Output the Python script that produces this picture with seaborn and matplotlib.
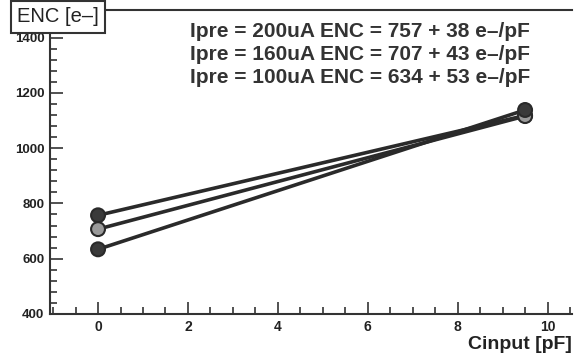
import pandas as pd
import matplotlib.pyplot as plt
import seaborn as sns
from matplotlib.ticker import MultipleLocator

# === DATA ===
ipre = ["200uA", "160uA", "100uA"]
cin = [0.0, 9.5]
enc_200 = [757, 1118]
enc_160 = [707, 1116]
enc_100 = [634, 1138]
fit_labels = [
    "Ipre = 200uA ENC = 757 + 38 e\u2013/pF",
    "Ipre = 160uA ENC = 707 + 43 e\u2013/pF",
    "Ipre = 100uA ENC = 634 + 53 e\u2013/pF",
]

df = pd.DataFrame({
    "Cinput": cin * 3,
    "ENC": enc_200 + enc_160 + enc_100,
    "Ipre": [ipre[0]] * 2 + [ipre[1]] * 2 + [ipre[2]] * 2,
})

sns.set_style("white")
plt.rcParams["font.family"] = ["Liberation Sans", "DejaVu Sans"]

fig = plt.figure(figsize=(5.74, 3.54), dpi=100)
ax = fig.add_axes([0.087, 0.113, 0.91, 0.859])

line_pal = {"200uA": "#2a2a2a", "160uA": "#2a2a2a", "100uA": "#2a2a2a"}
dot_pal = {"200uA": "#3a3a3a", "160uA": "#9a9a9a", "100uA": "#3a3a3a"}

sns.lineplot(data=df, x="Cinput", y="ENC", hue="Ipre", palette=line_pal,
             linewidth=2.6, legend=False, ax=ax)
sns.scatterplot(data=df, x="Cinput", y="ENC", hue="Ipre", palette=dot_pal,
                s=100, edgecolor="#2a2a2a", linewidth=1.5, legend=False,
                ax=ax, zorder=3)

ax.set_xlim(-1.07, 10.55)
ax.set_ylim(400, 1500)
ax.xaxis.set_major_locator(MultipleLocator(2))
ax.xaxis.set_minor_locator(MultipleLocator(0.5))
ax.yaxis.set_major_locator(MultipleLocator(200))
ax.yaxis.set_minor_locator(MultipleLocator(40))
ax.tick_params(which="both", direction="in", bottom=True, left=True,
               top=False, right=False, color="#333333", width=1.2)
ax.tick_params(which="major", length=9)
ax.tick_params(which="minor", length=5)
ax.tick_params(axis="x", labelsize=10, pad=4)
ax.tick_params(axis="y", labelsize=9.5, pad=4)
for lab in ax.get_xticklabels() + ax.get_yticklabels():
    lab.set_fontweight("bold")
    lab.set_color("#222222")

for side in ["left", "bottom", "top"]:
    ax.spines[side].set_color("#333333")
    ax.spines[side].set_linewidth(1.5)
ax.spines["right"].set_visible(False)
ax.set_xlabel("")
ax.set_ylabel("")

for i, txt in enumerate(fit_labels):
    fig.text(0.331, 0.910 - i * 0.064, txt, fontsize=15, fontweight="bold",
             color="#333333", va="center")

fig.text(0.030, 0.953, "ENC [e\u2013]", fontsize=14.5, color="#222222",
         va="center",
         bbox=dict(boxstyle="square,pad=0.32", fc="white", ec="#333333", lw=1.5))
fig.text(0.997, 0.026, "Cinput [pF]", fontsize=14, fontweight="bold",
         color="#222222", ha="right", va="center")

fig.savefig("out.png", dpi=100)
